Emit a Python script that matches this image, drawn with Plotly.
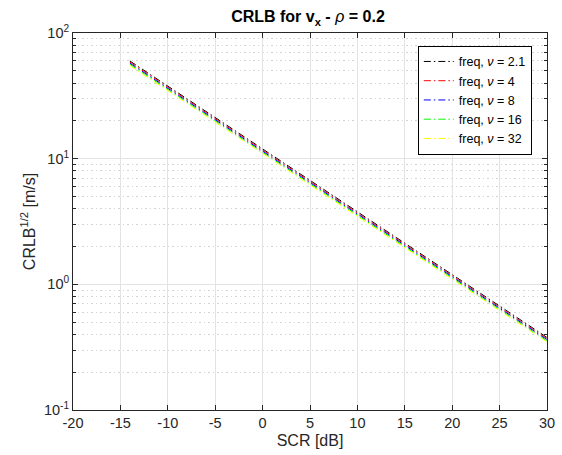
import plotly.graph_objects as go

scr_db = [-14, -10, -5, 0, 5, 10, 15, 20, 25, 30]
nu_labels = ["2.1", "4", "8", "16", "32"]
colors = ["#000000", "#ff0000", "#0000ff", "#00ff00", "#ffff00"]
crlb_nu_2_1 = [59.9, 37.8, 21.2, 11.95, 6.72, 3.78, 2.12, 1.20, 0.672, 0.378]
crlb_nu_4 = [58.7, 37.0, 20.8, 11.7, 6.59, 3.70, 2.08, 1.17, 0.659, 0.370]
crlb_nu_8 = [57.5, 36.3, 20.4, 11.5, 6.45, 3.63, 2.04, 1.15, 0.645, 0.363]
crlb_nu_16 = [56.3, 35.5, 19.9, 11.2, 6.32, 3.55, 2.00, 1.12, 0.632, 0.355]
crlb_nu_32 = [55.1, 34.8, 19.5, 11.0, 6.18, 3.48, 1.95, 1.10, 0.618, 0.348]
series = [crlb_nu_2_1, crlb_nu_4, crlb_nu_8, crlb_nu_16, crlb_nu_32]

x_ticks = [-20, -15, -10, -5, 0, 5, 10, 15, 20, 25, 30]
x_ticktext = ["-20", "-15", "-10", "-5", "0", "5", "10", "15", "20", "25", "30"]
y_ticks = [0.1, 1, 10, 100]
y_ticktext = ["10<sup>-1</sup>", "10<sup>0</sup>", "10<sup>1</sup>", "10<sup>2</sup>"]
y_minor_ticks = [m * d for d in (0.1, 1, 10) for m in range(2, 10)]

fig = go.Figure()
for lab, col, vals in zip(nu_labels, colors, series):
    fig.add_trace(go.Scatter(
        x=scr_db, y=vals, mode="lines",
        line=dict(color=col, width=1, dash="7px,3px,1.5px,3px"),
        name=f"freq, <i>ν</i> = {lab}",
    ))

axcol = "#262626"
fig.update_layout(
    width=562, height=455,
    margin=dict(l=73, r=15, t=33, b=45),
    paper_bgcolor="white", plot_bgcolor="white",
    font=dict(family="Liberation Sans, Arial, sans-serif", size=14, color=axcol),
    title=dict(text="<b>CRLB for v<sub>x</sub> - </b><i>ρ</i><b> = 0.2</b>",
               x=0.548, xanchor="center", y=0.963, yanchor="middle",
               font=dict(size=16, color="black")),
    showlegend=True,
    legend=dict(x=0.968, xanchor="right", y=0.966, yanchor="top",
                bgcolor="white", bordercolor="black", borderwidth=1,
                font=dict(size=12.5, color="black"), tracegroupgap=0),
)
fig.update_xaxes(
    range=[-20, 30], tickmode="array", tickvals=x_ticks, ticktext=x_ticktext,
    ticks="inside", ticklen=5,
    tickcolor=axcol, showline=True, linecolor=axcol, linewidth=1, mirror="ticks",
    showgrid=True, gridcolor="#e3e3e3", gridwidth=1, zeroline=False,
    automargin=False,
    title=dict(text="SCR [dB]", font=dict(size=16), standoff=4),
    tickfont=dict(size=14.5),
)
fig.update_yaxes(
    type="log", range=[-1, 2], tickmode="array", tickvals=y_ticks, ticktext=y_ticktext,
    ticks="inside", ticklen=5, tickcolor=axcol,
    showline=True, linecolor=axcol, linewidth=1, mirror="ticks",
    showgrid=True, gridcolor="#e3e3e3", gridwidth=1, zeroline=False,
    automargin=False,
    minor=dict(tickmode="array", tickvals=y_minor_ticks, ticks="inside", ticklen=3,
               tickcolor=axcol, showgrid=True, gridcolor="#d4d4d4",
               griddash="1.5px,3px"),
    title=dict(text="CRLB<sup>1/2</sup> [m/s]", font=dict(size=16), standoff=4),
    tickfont=dict(size=14.5),
)

fig.write_html("out.html", config={"displayModeBar": False},
               post_script="document.body.style.margin='0';document.body.style.padding='0';")
